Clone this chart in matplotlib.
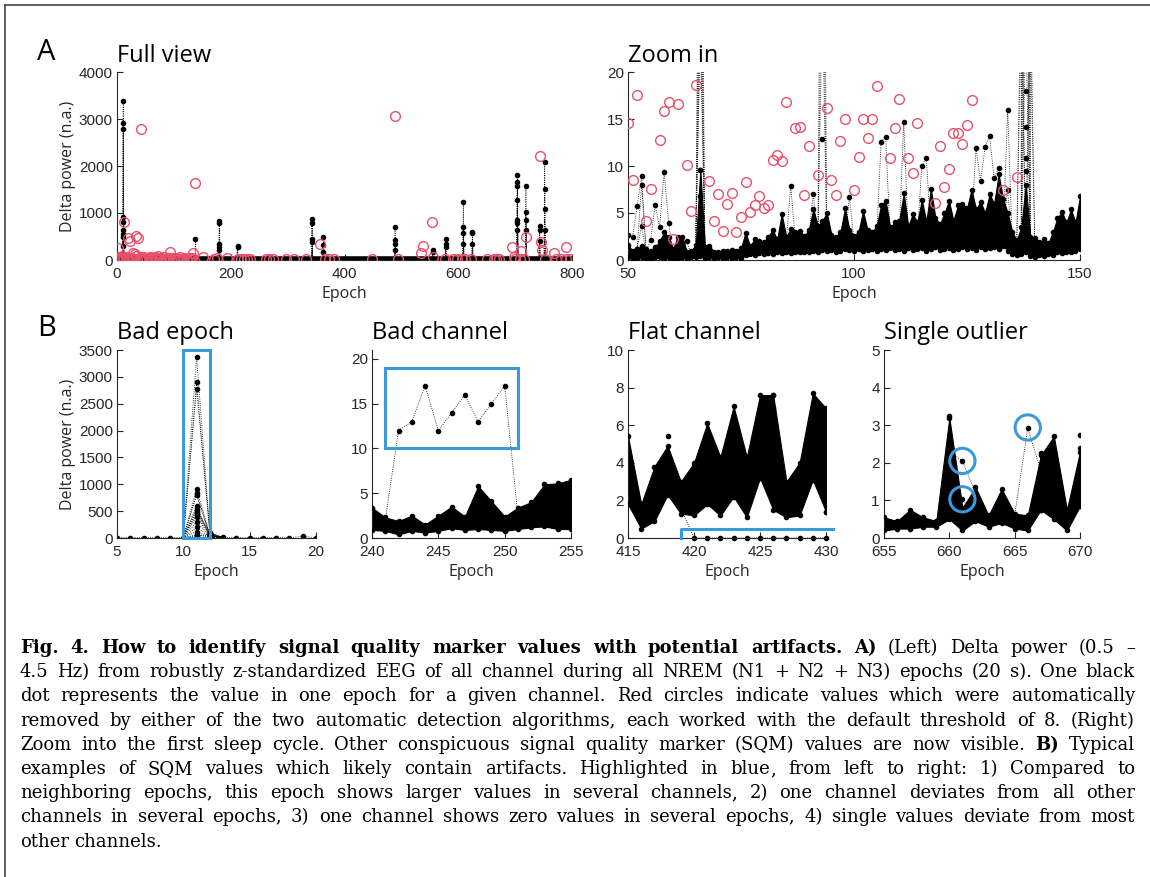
import numpy as np
import matplotlib.pyplot as plt
from matplotlib.lines import Line2D
from matplotlib.patches import Rectangle

# ---- data ----
# A) full view: black spikes (epoch, channel values)
full_spike_epochs = [11, 138, 180, 212, 343, 363, 489, 555, 578, 609, 625, 704, 719, 743, 752]
full_spike_values = [
    [3390, 2910, 2780, 920, 815, 640, 560, 480, 300],
    [450, 70],
    [830, 780, 350, 280, 210],
    [300, 270],
    [880, 780, 450, 390],
    [495, 320, 180],
    [710, 425, 350, 210],
    [210, 180],
    [450, 350, 280],
    [1240, 700, 570, 350],
    [600, 570, 350],
    [1800, 1655, 1570, 1275, 850, 780, 640],
    [1565, 1030, 850, 640],
    [720, 640, 410],
    [2075, 1510, 1090, 640],
]
full_band_epochs = [0, 800]
full_band_level = [15, 15]
# red circles well above zero
full_red_epochs = [2, 12, 20, 23, 29, 31, 34, 37, 42, 93,
                   134, 138, 152, 193, 357, 488, 534, 538, 554, 555,
                   694, 698, 710, 719, 743, 745, 748, 768, 790]
full_red_values = [250, 800, 460, 400, 155, 130, 510, 460, 2790, 175,
                   140, 1640, 70, 40, 340, 3055, 155, 300, 800, 70,
                   275, 70, 200, 480, 2210, 380, 210, 155, 270]
# red circles close to zero
full_red0_epochs = [1, 3, 5, 7, 8, 10, 13, 15, 18, 21,
                    25, 27, 30, 33, 36, 40, 43, 45, 47, 50,
                    53, 56, 58, 61, 63, 66, 68, 70, 72, 75,
                    77, 80, 82, 85, 87, 90, 92, 95, 98, 100,
                    103, 105, 108, 110, 113, 116, 118, 121, 123, 126,
                    128, 130, 132, 170, 175, 212, 218, 224, 229, 234,
                    262, 268, 275, 297, 312, 333, 365, 372, 382, 449,
                    494, 576, 590, 598, 606, 612, 622, 650, 662, 667,
                    671, 700, 708, 716, 752, 771, 780, 789, 797]
full_red0_values = [20, 50, 60, 30, 90, 30, 20, 40, 70, 30,
                    20, 50, 30, 80, 20, 30, 60, 20, 60, 30,
                    20, 40, 70, 30, 20, 60, 50, 30, 80, 20,
                    40, 30, 60, 30, 20, 40, 50, 30, 40, 20,
                    30, 50, 20, 60, 30, 20, 40, 30, 20, 50,
                    30, 20, 40, 30, 40, 30, 20, 30, 20, 30,
                    20, 20, 30, 20, 20, 20, 20, 20, 30, 20,
                    20, 20, 20, 20, 30, 20, 30, 20, 20, 20,
                    20, 20, 20, 30, 20, 20, 20, 20, 20]

# A) zoom in (epochs 50-150)
zoom_epochs = np.arange(50, 151)
zoom_upper = [1.6, 1.0, 1.2, 1.5, 1.2, 1.0, 1.4, 2.0, 3.0, 2.4, 1.2,
              2.5, 2.5, 0.9, 1.0, 1.6, 9.6, 1.4, 1.5, 0.9, 0.8, 1.0, 1.0, 1.1, 1.0, 1.3,
              2.9, 1.5, 2.2, 2.0, 1.9, 2.5, 3.2, 2.2, 4.9, 2.5, 3.3, 3.0, 3.1, 2.6, 3.2,
              5.4, 3.6, 4.2, 5.0, 2.7, 2.5, 3.0, 5.5, 3.2, 2.6, 3.0, 5.2, 3.2, 3.0, 3.6,
              5.9, 6.3, 3.5, 4.0, 4.2, 7.1, 3.6, 4.9, 4.0, 6.4, 4.1, 7.6, 4.5, 3.8, 5.0,
              6.3, 4.2, 5.8, 6.0, 5.5, 7.5, 5.4, 6.2, 5.0, 7.0, 6.0, 9.1, 6.5, 5.0, 3.0,
              2.1, 3.5, 8.0, 2.5, 2.3, 1.9, 2.2, 1.8, 3.0, 4.5, 5.1, 4.0, 5.4, 4.0, 6.8]
zoom_lower = [0.3, 0.2, 0.2, 0.3, 0.2, 0.2, 0.3, 0.3, 0.2, 0.3, 0.0,
              0.2, 0.3, 0.2, 0.3, 0.3, 0.4, 0.2, 0.3, 0.2, 0.3, 0.2, 0.3, 0.2, 0.3, 0.2,
              0.5, 0.6, 0.5, 0.7, 0.6, 0.7, 0.6, 0.8, 0.7, 0.8, 0.7, 0.8, 0.9, 0.8, 0.9,
              1.0, 0.9, 1.1, 1.0, 1.1, 0.9, 1.0, 1.2, 1.1, 1.0, 1.2, 1.0, 1.1, 1.2, 1.0,
              1.2, 1.1, 1.3, 1.1, 1.2, 1.0, 1.3, 1.1, 1.2, 1.3, 1.0, 1.2, 1.4, 1.1, 1.2,
              1.3, 1.1, 1.2, 1.4, 1.2, 1.3, 1.1, 1.4, 1.2, 1.3, 1.4, 1.2, 1.5, 1.0, 0.6,
              0.5, 0.6, 0.8, 0.4, 0.3, 0.5, 0.4, 0.6, 0.5, 0.8, 0.7, 0.9, 0.8, 1.0, 1.2]
zoom_spike_epochs = [66, 93, 137, 138, 139]
zoom_spike_values = [[24, 28, 34, 45, 64], [28, 40, 70], [26, 32], [25, 40, 80, 450, 1640], [24, 30]]
zoom_spike_dots = [[9.6, 6.8, 4.3], [12.9], [], [18.0, 14.1, 10.9, 9.5], []]
zoom_channels = [
    ([50, 51, 52, 53, 54, 55, 56, 57, 58, 59, 60], [2.7, 2.4, 5.7, 8.9, 1.0, 2.1, 5.9, 3.5, 9.4, 3.9, 0.5]),
    ([52, 53, 54], [1.0, 8.0, 1.0]),
    ([52, 53, 54], [1.2, 3.6, 0.8]),
    ([62, 63, 64], [1.0, 2.0, 0.5]),
    ([85, 86, 87], [2.0, 7.9, 2.2]),
    ([90, 91, 92], [2.5, 7.0, 2.0]),
    ([98, 99, 100], [2.0, 6.75, 2.0]),
    ([105, 106, 107, 108], [2.5, 12.6, 13.1, 2.5]),
    ([110, 111, 112], [2.5, 14.7, 2.5]),
    ([114, 115, 116, 117], [2.5, 10.0, 10.8, 3.0]),
    ([126, 127, 128, 129, 130, 131, 132, 133], [4.0, 11.9, 8.4, 12.0, 13.2, 8.7, 9.8, 4.0]),
    ([133, 134, 135], [3.0, 16.0, 2.0]),
    ([133, 134, 135], [3.5, 7.4, 1.5]),
    ([149, 150], [1.75, 1.75]),
]
zoom_red_epochs = [50, 51, 52, 54, 55, 57, 58, 59, 60, 61,
                   63, 64, 65, 68, 69, 70, 71, 72, 73, 74,
                   75, 76, 77, 78, 79, 80, 81, 82, 83, 84,
                   85, 87, 88, 89, 90, 92, 94, 95, 96, 97,
                   98, 100, 101, 102, 103, 104, 105, 108, 109, 110,
                   112, 113, 114, 118, 119, 120, 121, 122, 123, 124,
                   125, 126, 133, 136]
zoom_red_values = [14.6, 8.5, 17.6, 4.1, 7.6, 12.8, 15.8, 16.8, 2.25, 16.6,
                   10.1, 5.2, 18.6, 8.4, 4.2, 7.0, 3.1, 6.0, 7.1, 3.0,
                   4.6, 8.3, 5.1, 5.9, 6.8, 5.5, 5.8, 10.6, 11.2, 10.5,
                   16.8, 14.0, 14.1, 6.9, 12.1, 9.0, 16.2, 8.5, 6.9, 12.7,
                   15.0, 7.5, 11.0, 15.0, 13.0, 15.0, 18.5, 10.9, 14.0, 17.1,
                   10.9, 9.3, 14.6, 6.1, 12.1, 7.8, 9.7, 13.5, 13.5, 12.3,
                   14.4, 17.0, 7.4, 8.8]

# B) bad epoch
be_epochs = list(range(5, 21))
be_base = [6, 5, 6, 5, 6, 8, 40, 60, 10, 6, 5, 6, 5, 6, 30, 6]
be_spike = [3370, 2900, 2780, 920, 830, 800, 600, 560, 520, 480, 440, 400, 300, 200, 120, 60]
be_after = [100, 90, 80, 60, 50, 40, 30, 20, 100, 80, 60, 40, 30, 20, 10, 10]
be_box = (10, 12, 0, 3500)

# B) bad channel
bc_epochs = list(range(240, 256))
bc_upper = [3.4, 2.3, 1.9, 2.5, 1.5, 2.5, 3.5, 2.4, 5.8, 4.1, 2.4, 3.4, 4.0, 6.0, 6.1, 6.5]
bc_lower = [0.9, 0.8, 0.4, 0.8, 0.6, 0.8, 1.1, 0.9, 1.0, 0.9, 0.8, 1.0, 1.2, 1.3, 1.0, 1.0]
bc_bad_epochs = [241, 242, 243, 244, 245, 246, 247, 248, 249, 250, 251]
bc_bad_values = [2.0, 12, 13, 17, 12, 14, 16, 13, 15, 17, 2.5]
bc_box = (241, 251, 10, 19)

# B) flat channel
fc_epochs = list(range(415, 431))
fc_upper = [5.4, 1.8, 3.8, 4.9, 3.0, 4.0, 6.1, 4.3, 7.0, 4.3, 7.6, 7.6, 3.0, 4.0, 7.7, 6.9]
fc_lower = [1.8, 0.5, 0.9, 2.3, 1.3, 1.2, 1.8, 1.2, 2.2, 1.1, 3.2, 1.5, 1.1, 1.2, 3.1, 1.4]
fc_flat_epochs = [419, 420, 421, 422, 423, 424, 425, 426, 427, 428, 429, 430]
fc_flat_values = [1.6, 0, 0, 0, 0, 0, 0, 0, 0, 0, 0, 0]
fc_extra = ([418, 426, 426, 430, 415], [5.45, 7.6, 6.9, 1.4, 1.8])
fc_bracket = ([419, 419, 430.5], [0, 0.5, 0.5])

# B) single outlier
so_epochs = list(range(655, 671))
so_upper = [0.55, 0.45, 0.75, 0.55, 0.45, 3.2, 0.8, 1.35, 0.6, 1.3, 0.65, 0.6, 2.2, 2.7, 0.75, 2.3]
so_lower = [0.2, 0.25, 0.25, 0.3, 0.3, 0.5, 0.2, 0.45, 0.3, 0.4, 0.25, 0.2, 0.75, 0.5, 0.2, 0.85]
so_channels = [
    ([660, 661, 662], [2.3, 2.05, 1.2]),
    ([660, 661, 662], [1.6, 1.03, 0.6]),
    ([665, 666, 667], [0.6, 2.92, 1.8]),
]
so_extra = ([660, 670, 670, 670, 667, 667], [3.25, 2.75, 2.4, 0.85, 2.25, 0.75])
so_circles = ([661, 661, 666], [2.05, 1.03, 2.94])

caption_lines = [
    "**Fig. 4.  How to identify signal quality marker values with potential artifacts. A)** (Left) Delta power (0.5 \u2013",
    "4.5 Hz) from robustly z-standardized EEG of all channel during all NREM (N1 + N2 + N3) epochs (20 s). One black",
    "dot represents the value in one epoch for a given channel. Red circles indicate values which were automatically",
    "removed by either of the two automatic detection algorithms, each worked with the default threshold of 8. (Right)",
    "Zoom into the first sleep cycle. Other conspicuous signal quality marker (SQM) values are now visible. **B)** Typical",
    "examples of SQM values which likely contain artifacts. Highlighted in blue, from left to right: 1) Compared to",
    "neighboring epochs, this epoch shows larger values in several channels, 2) one channel deviates from all other",
    "channels in several epochs, 3) one channel shows zero values in several epochs, 4) single values deviate from most",
    "other channels.",
]

# ---- drawing ----
W, H = 1150, 877
fig = plt.figure(figsize=(11.5, 8.77), dpi=100)
BLUE = '#3a9ad9'
RED = '#e8506b'
TXT = '#262626'
DOT = dict(marker='o', ms=3, color='k', lw=0)
LINE = dict(color='k', lw=0.6, ls=':')


def px_axes(l, t, r, b):
    return fig.add_axes([l / W, 1 - b / H, (r - l) / W, (b - t) / H])


def style(ax, xlim, ylim, xticks, yticks, ylabel=False):
    ax.set_xlim(xlim)
    ax.set_ylim(ylim)
    ax.set_xticks(xticks)
    ax.set_yticks(yticks)
    ax.spines['top'].set_visible(False)
    ax.spines['right'].set_visible(False)
    for s in ['left', 'bottom']:
        ax.spines[s].set_color(TXT)
        ax.spines[s].set_linewidth(0.8)
    ax.tick_params(direction='in', length=4, width=0.8, colors=TXT, labelsize=11, pad=3)
    ax.tick_params(axis='x', pad=5)
    for lab in ax.get_xticklabels() + ax.get_yticklabels():
        lab.set_fontfamily('Liberation Sans')
    ax.set_xlabel('Epoch', fontfamily='Open Sans', fontsize=11.5, color=TXT, labelpad=4)
    if ylabel:
        ax.set_ylabel('Delta power (n.a.)', fontfamily='Open Sans', fontsize=11.5, color=TXT, labelpad=2)


def band(ax, x, lo, hi):
    ax.fill_between(x, lo, hi, color='k', lw=0.8, zorder=2)
    ax.plot(x, hi, **DOT, zorder=3)
    ax.plot(x, lo, **DOT, zorder=3)


# full view
ax1 = px_axes(117, 72, 572, 260)
ax1.plot(full_band_epochs, full_band_level, color='k', lw=4, zorder=2)
for e, vals in zip(full_spike_epochs, full_spike_values):
    for v in vals:
        ax1.plot([e - 1, e, e + 1], [0, v, 0], **LINE)
    ax1.plot([e] * len(vals), vals, **DOT)
ax1.plot(full_red_epochs, full_red_values, 'o', ms=7, mfc='none', mec=RED, mew=1.0, zorder=4)
ax1.plot(full_red0_epochs, full_red0_values, 'o', ms=7, mfc='none', mec=RED, mew=1.0, zorder=4)
style(ax1, (0, 800), (0, 4000), [0, 200, 400, 600, 800], [0, 1000, 2000, 3000, 4000], ylabel=True)

# zoom in
ax2 = px_axes(628, 72, 1080, 260)
band(ax2, zoom_epochs, zoom_lower, zoom_upper)
for e, vals, dots in zip(zoom_spike_epochs, zoom_spike_values, zoom_spike_dots):
    for v in vals:
        ax2.plot([e - 1, e, e + 1], [1.5, v, 1.5], **LINE)
    ax2.plot([e] * len(dots), dots, **DOT)
for xs, ys in zoom_channels:
    ax2.plot(xs, ys, **LINE)
    ax2.plot(xs, ys, **DOT)
ax2.plot(zoom_red_epochs, zoom_red_values, 'o', ms=7, mfc='none', mec=RED, mew=1.0, zorder=4)
style(ax2, (50, 150), (0, 20), [50, 100, 150], [0, 5, 10, 15, 20])

# bad epoch
ax3 = px_axes(117, 350, 316, 538)
ax3.plot(be_epochs, be_base, **LINE)
ax3.plot(be_epochs, be_base, **DOT)
for v, w in zip(be_spike, be_after):
    ax3.plot([10, 11, 12, 13], [6, v, w, 6], **LINE)
ax3.plot([11] * len(be_spike), be_spike, **DOT)
ax3.plot([12] * len(be_after), be_after, **DOT)
ax3.add_patch(Rectangle((be_box[0], be_box[2]), be_box[1] - be_box[0], be_box[3] - be_box[2],
                        fill=False, ec=BLUE, lw=2.2, clip_on=False, zorder=5))
style(ax3, (5, 20), (0, 3500), [5, 10, 15, 20], list(range(0, 3501, 500)), ylabel=True)

# bad channel
ax4 = px_axes(372, 350, 571, 538)
band(ax4, bc_epochs, bc_lower, bc_upper)
ax4.plot(bc_bad_epochs, bc_bad_values, **LINE)
ax4.plot(bc_bad_epochs, bc_bad_values, **DOT)
ax4.add_patch(Rectangle((bc_box[0], bc_box[2]), bc_box[1] - bc_box[0], bc_box[3] - bc_box[2],
                        fill=False, ec=BLUE, lw=2.2, zorder=5))
style(ax4, (240, 255), (0, 21), [240, 245, 250, 255], [0, 5, 10, 15, 20])

# flat channel
ax5 = px_axes(628, 350, 826, 538)
band(ax5, fc_epochs, fc_lower, fc_upper)
ax5.plot(fc_flat_epochs, fc_flat_values, **LINE)
ax5.plot(fc_flat_epochs, fc_flat_values, **DOT, clip_on=False)
ax5.plot(*fc_extra, **DOT)
ax5.plot(*fc_bracket, color=BLUE, lw=2.2, clip_on=False, zorder=5)
style(ax5, (415, 430), (0, 10), [415, 420, 425, 430], [0, 2, 4, 6, 8, 10])

# single outlier
ax6 = px_axes(884, 350, 1080, 538)
band(ax6, so_epochs, so_lower, so_upper)
for xs, ys in so_channels:
    ax6.plot(xs, ys, **LINE)
    ax6.plot(xs, ys, **DOT)
ax6.plot(*so_extra, **DOT)
ax6.scatter(*so_circles, s=330, facecolors='none', edgecolors=BLUE, linewidths=2.2, zorder=5)
style(ax6, (655, 670), (0, 5), [655, 660, 665, 670], [0, 1, 2, 3, 4, 5])

# panel titles and letters
titles = [(117, 56, 'Full view'), (628, 56, 'Zoom in'), (117, 333, 'Bad epoch'),
          (372, 333, 'Bad channel'), (628, 333, 'Flat channel'), (884, 333, 'Single outlier')]
for x, y, s in titles:
    fig.text(x / W, 1 - y / H, s, fontfamily='Open Sans', fontsize=17, va='center', ha='left')
fig.text(37 / W, 1 - 52 / H, 'A', fontfamily='Open Sans', fontsize=21, va='center', ha='left')
fig.text(37 / W, 1 - 328 / H, 'B', fontfamily='Open Sans', fontsize=21, va='center', ha='left')

# frame
fig.add_artist(Line2D([5 / W, 1], [1 - 5 / H, 1 - 5 / H], color='#444444', lw=1.2))
fig.add_artist(Line2D([5 / W, 5 / W], [0, 1 - 5 / H], color='#444444', lw=1.2))

# caption, justified; a word whose only descender is a trailing comma is
# split so Agg keeps it on the same baseline as the rest of the line
renderer = fig.canvas.get_renderer()
x0, x1 = 20, 1135
y0, dy = 653, 24.2
for i, line in enumerate(caption_lines):
    tokens = []  # (text, bold, glued to previous)
    for k, part in enumerate(line.split('**')):
        for word in part.split():
            bold = k % 2 == 1
            if word.endswith(',') and not any(c in word for c in 'gjpqy'):
                tokens.append((word[:-1], bold, False))
                tokens.append((',', bold, True))
            else:
                tokens.append((word, bold, False))
    texts = [fig.text(0, 1 - (y0 + i * dy) / H, w, fontfamily='DejaVu Serif', fontsize=13.0,
                      fontweight='bold' if b else 'normal', va='baseline', ha='left')
             for w, b, _ in tokens]
    widths = [t.get_window_extent(renderer).width for t in texts]
    n_gaps = sum(1 for _, _, g in tokens[1:] if not g)
    if i < len(caption_lines) - 1:
        gap = (x1 - x0 - sum(widths)) / n_gaps
    else:
        gap = 5.5
    x = x0
    for j, (t, w) in enumerate(zip(texts, widths)):
        if j > 0:
            x += 0 if tokens[j][2] else gap
        t.set_x(x / W)
        x += w

fig.savefig('out.png', dpi=100)
